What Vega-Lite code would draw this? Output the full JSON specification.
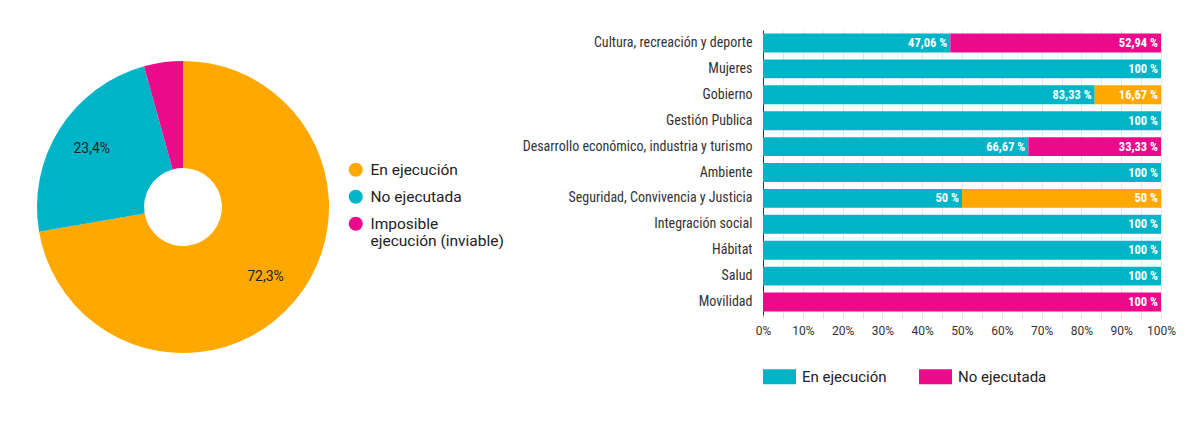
{
  "$schema": "https://vega.github.io/schema/vega-lite/v6.json",
  "background": "white",
  "padding": {"left": 37, "top": 30, "right": 5, "bottom": 5},
  "config": {
    "view": {"stroke": null},
    "font": "Roboto",
    "legend": {"labelFont": "Roboto"},
    "axisX": {"labelOverlap": false, "labelFlush": false}
  },
  "resolve": {"scale": {"color": "independent"}, "legend": {"color": "independent"}},
  "spacing": 18,
  "hconcat": [
    {
      "width": 292,
      "height": 354,
      "data": {
        "values": [
          {"estado": "En ejecución", "share": 72.3, "orden": 1, "etiqueta": "72,3%"},
          {"estado": "No ejecutada", "share": 23.4, "orden": 2, "etiqueta": "23,4%"},
          {"estado": "Imposible ejecución (inviable)", "share": 4.3, "orden": 3, "etiqueta": ""}
        ]
      },
      "layer": [
        {
          "mark": {"type": "arc", "innerRadius": 39, "outerRadius": 146},
          "encoding": {
            "theta": {"field": "share", "type": "quantitative", "stack": true},
            "order": {"field": "orden", "type": "quantitative"},
            "color": {
              "field": "estado",
              "type": "nominal",
              "sort": ["En ejecución", "No ejecutada", "Imposible ejecución (inviable)"],
              "scale": {
                "domain": ["En ejecución", "No ejecutada", "Imposible ejecución (inviable)"],
                "range": ["#FFA800", "#00B4C8", "#EC0A8C"]
              },
              "legend": {
                "title": null,
                "orient": "none",
                "legendX": 311,
                "legendY": 132,
                "symbolType": "circle",
                "symbolSize": 200,
                "symbolStrokeWidth": 0,
                "labelFontSize": 15.5,
                "labelColor": "#222",
                "labelOffset": 7,
                "rowPadding": 10,
                "labelLimit": 300,
                "labelExpr": "datum.label == 'Imposible ejecución (inviable)' ? ['Imposible', 'ejecución (inviable)'] : datum.label"
              }
            }
          }
        },
        {
          "mark": {"type": "text", "radius": 108, "fontSize": 14, "font": "Roboto", "color": "#222"},
          "encoding": {
            "theta": {"field": "share", "type": "quantitative", "stack": true},
            "order": {"field": "orden", "type": "quantitative"},
            "text": {"field": "etiqueta", "type": "nominal"}
          }
        }
      ]
    },
    {
      "width": 398,
      "height": 285,
      "data": {
        "values": [
          {"sector": "Cultura, recreación y deporte", "estado": "En ejecución", "pct": 47.06, "orden": 1, "etiqueta": "47,06 %"},
          {"sector": "Cultura, recreación y deporte", "estado": "No ejecutada", "pct": 52.94, "orden": 2, "etiqueta": "52,94 %"},
          {"sector": "Mujeres", "estado": "En ejecución", "pct": 100, "orden": 1, "etiqueta": "100 %"},
          {"sector": "Gobierno", "estado": "En ejecución", "pct": 83.33, "orden": 1, "etiqueta": "83,33 %"},
          {"sector": "Gobierno", "estado": "Imposible ejecución (inviable)", "pct": 16.67, "orden": 3, "etiqueta": "16,67 %"},
          {"sector": "Gestión Publica", "estado": "En ejecución", "pct": 100, "orden": 1, "etiqueta": "100 %"},
          {"sector": "Desarrollo económico, industria y turismo", "estado": "En ejecución", "pct": 66.67, "orden": 1, "etiqueta": "66,67 %"},
          {"sector": "Desarrollo económico, industria y turismo", "estado": "No ejecutada", "pct": 33.33, "orden": 2, "etiqueta": "33,33 %"},
          {"sector": "Ambiente", "estado": "En ejecución", "pct": 100, "orden": 1, "etiqueta": "100 %"},
          {"sector": "Seguridad, Convivencia y Justicia", "estado": "En ejecución", "pct": 50, "orden": 1, "etiqueta": "50 %"},
          {"sector": "Seguridad, Convivencia y Justicia", "estado": "Imposible ejecución (inviable)", "pct": 50, "orden": 3, "etiqueta": "50 %"},
          {"sector": "Integración social", "estado": "En ejecución", "pct": 100, "orden": 1, "etiqueta": "100 %"},
          {"sector": "Hábitat", "estado": "En ejecución", "pct": 100, "orden": 1, "etiqueta": "100 %"},
          {"sector": "Salud", "estado": "En ejecución", "pct": 100, "orden": 1, "etiqueta": "100 %"},
          {"sector": "Movilidad", "estado": "No ejecutada", "pct": 100, "orden": 2, "etiqueta": "100 %"}
        ]
      },
      "transform": [
        {"stack": "pct", "groupby": ["sector"], "sort": [{"field": "orden", "order": "ascending"}], "as": ["x0", "x1"], "offset": "zero"}
      ],
      "encoding": {
        "y": {
          "field": "sector",
          "type": "nominal",
          "sort": ["Cultura, recreación y deporte", "Mujeres", "Gobierno", "Gestión Publica", "Desarrollo económico, industria y turismo", "Ambiente", "Seguridad, Convivencia y Justicia", "Integración social", "Hábitat", "Salud", "Movilidad"],
          "scale": {"paddingInner": 0.27, "paddingOuter": 0.135},
          "axis": {
            "title": null,
            "ticks": false,
            "domain": true,
            "domainColor": "#333",
            "domainWidth": 1,
            "labelPadding": 11,
            "labelFont": "Roboto Condensed, Roboto",
            "labelFontSize": 14,
            "labelColor": "#333",
            "labelLimit": 400
          }
        }
      },
      "layer": [
        {
          "mark": {"type": "bar"},
          "encoding": {
            "x": {
              "field": "x0",
              "type": "quantitative",
              "scale": {"domain": [0, 100], "nice": false},
              "axis": {
                "title": null,
                "values": [0, 5, 10, 15, 20, 25, 30, 35, 40, 45, 50, 55, 60, 65, 70, 75, 80, 85, 90, 95, 100],
                "labelExpr": "datum.value % 10 == 0 ? datum.value + '%' : ''",
                "labelOverlap": false,
                "labelFlush": false,
                "grid": true,
                "gridColor": "#e6e6e6",
                "domain": false,
                "ticks": true,
                "tickColor": "#dddddd",
                "tickSize": 3,
                "labelPadding": 7,
                "labelFontSize": 12,
                "labelColor": "#333",
                "labelFont": "Roboto"
              }
            },
            "x2": {"field": "x1"},
            "color": {
              "field": "estado",
              "type": "nominal",
              "scale": {
                "domain": ["En ejecución", "No ejecutada", "Imposible ejecución (inviable)"],
                "range": ["#00B4C8", "#EC0A8C", "#FFA800"]
              },
              "legend": {
                "title": null,
                "orient": "bottom",
                "direction": "horizontal",
                "values": ["En ejecución", "No ejecutada"],
                "symbolType": "M-1,-0.45H1V0.45H-1Z",
                "symbolSize": 1089,
                "symbolStrokeWidth": 0,
                "labelFontSize": 15,
                "labelColor": "#222",
                "labelOffset": 6,
                "columnPadding": 32,
                "offset": 24
              }
            }
          }
        },
        {
          "mark": {"type": "text", "align": "right", "baseline": "middle", "dx": -3, "color": "white", "font": "Roboto Condensed, Roboto", "fontSize": 12.5, "fontWeight": "bold"},
          "encoding": {
            "x": {
              "field": "x1",
              "type": "quantitative",
              "axis": {
                "title": null,
                "values": [0, 5, 10, 15, 20, 25, 30, 35, 40, 45, 50, 55, 60, 65, 70, 75, 80, 85, 90, 95, 100],
                "labelExpr": "datum.value % 10 == 0 ? datum.value + '%' : ''",
                "labelOverlap": false,
                "labelFlush": false,
                "grid": true,
                "gridColor": "#e6e6e6",
                "domain": false,
                "ticks": true,
                "tickColor": "#dddddd",
                "tickSize": 3,
                "labelPadding": 7,
                "labelFontSize": 12,
                "labelColor": "#333",
                "labelFont": "Roboto"
              }
            },
            "text": {"field": "etiqueta", "type": "nominal"}
          }
        }
      ]
    }
  ]
}
